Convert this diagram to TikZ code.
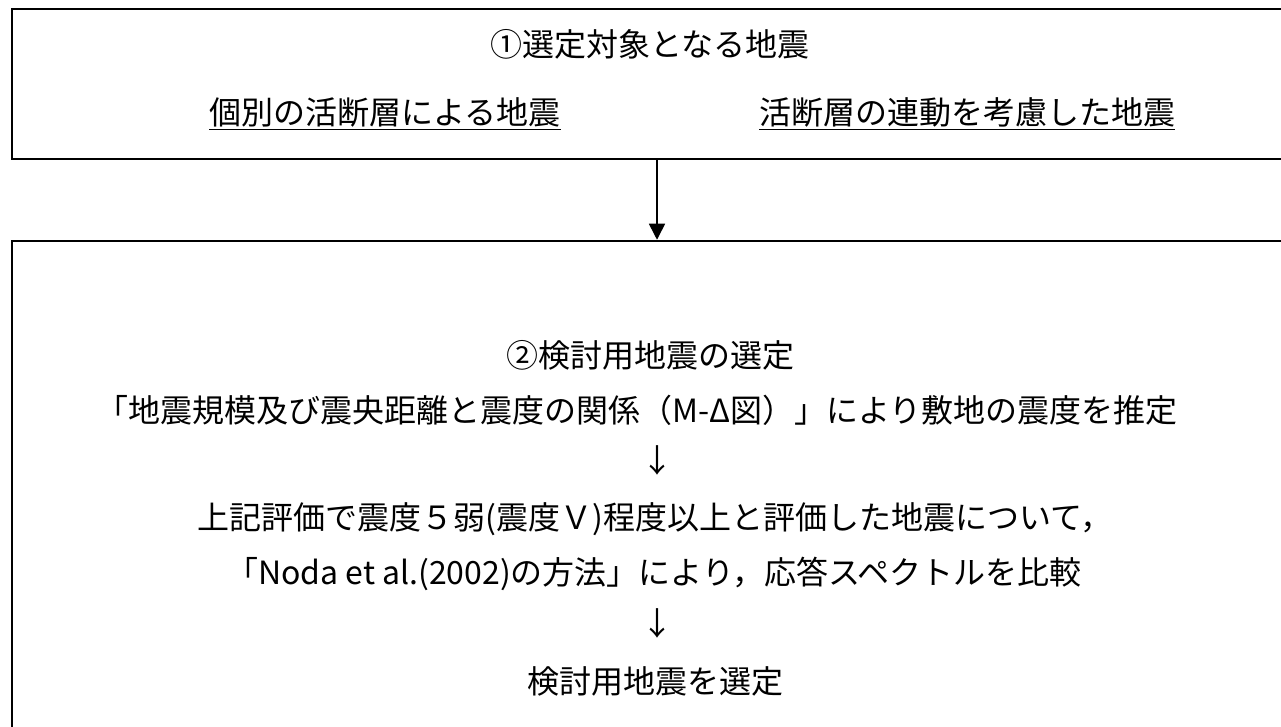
\documentclass[tikz,border=0pt]{standalone}
\usepackage{fontspec}
\setmainfont{Noto Sans CJK JP}
\usetikzlibrary{arrows.meta,calc,positioning}

\begin{document}
\begin{tikzpicture}[
    x=1pt, y=-1pt,
    >={Triangle[width=16pt,length=16pt]},
    frame/.style = {draw, line width=2.5pt, minimum width=1290pt},
    txt/.style   = {font=\fontsize{32}{38}\selectfont, inner sep=0pt},
    flow/.style  = {line width=1.6pt, ->}
  ]
  \useasboundingbox (0,0) rectangle (1281,727);

  %–––– frames ––––
  \node[frame, minimum height=150pt] (sel)  at (657,84)    {};
  \node[frame, minimum height=529pt] (exam) at (657,505.5) {};

  %–––– first frame ––––
  \node[txt] (title1) at ($(sel.north)+(-7,37)$) {①選定対象となる地震};
  \node[txt] (single) at ($(sel.north)+(-272,106)$) {\underline{個別の活断層による地震}};
  \node[txt] (linked) at ($(sel.north)+(310,106)$)  {\underline{活断層の連動を考慮した地震}};

  %–––– second frame ––––
  \node[txt] (title2) at ($(exam.north)+(-7,116)$) {②検討用地震の選定};
  \node[txt] (mdelta) at ($(exam.north)+(-20,171)$) {「地震規模及び震央距離と震度の関係（M-Δ図）」により敷地の震度を推定};
  \node[txt] (down1)  at ($(exam.north)+(0,221)$)   {↓};
  \node[txt] (eval)   at ($(exam.north)+(-2,279)$)  {上記評価で震度５弱(震度Ｖ)程度以上と評価した地震について，};
  \node[txt] (noda)   at ($(exam.north)+(-3,334)$)  {「Noda et al.(2002)の方法」により，応答スペクトルを比較};
  \node[txt] (down2)  at ($(exam.north)+(0,384)$)   {↓};
  \node[txt] (choose) at ($(exam.north)+(-2,442)$)  {検討用地震を選定};

  %–––– flow ––––
  \draw[flow] (sel) -- (exam);

\end{tikzpicture}
\end{document}
